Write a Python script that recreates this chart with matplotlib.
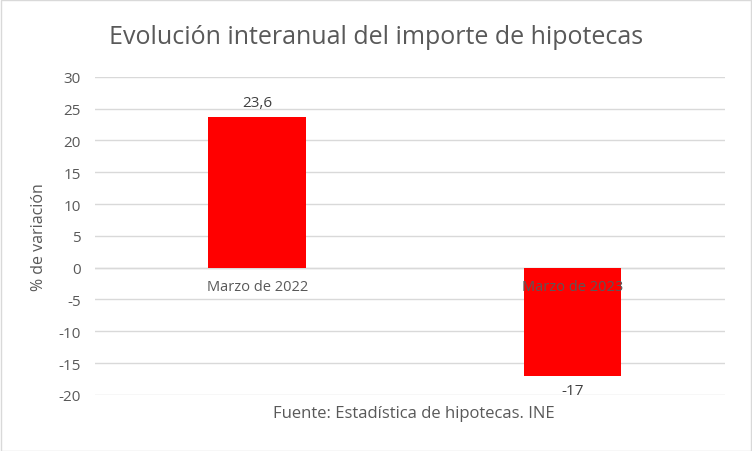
import matplotlib
matplotlib.use("Agg")
import matplotlib.pyplot as plt
from matplotlib.patches import Rectangle
from matplotlib.ticker import FuncFormatter

categories = ["Marzo de 2022", "Marzo de 2023"]
values = [23.6, -17]
labels = ["23,6", "-17"]
yticks = [30, 25, 20, 15, 10, 5, 0, -5, -10, -15, -20]

plt.rcParams['font.family'] = ['Open Sans', 'DejaVu Sans']
fig = plt.figure(figsize=(7.52, 4.52), dpi=100)
fig.patches.append(Rectangle((0.001, 0.001), 0.998, 0.997, transform=fig.transFigure,
                             fill=False, edgecolor="#d9d9d9", lw=1))
ax = fig.add_axes([0.126, 0.124, 0.838, 0.704])
x = list(range(len(categories)))
ax.bar(x, values, width=0.31, color="#ff0000", zorder=3)
ax.set_xlim(-0.516, 1.484)
ax.set_ylim(-20, 30)
ax.set_yticks(yticks)
ax.yaxis.set_major_formatter(FuncFormatter(lambda v, p: f"{int(v)}"))
ax.tick_params(axis='y', length=0, labelsize=11, labelcolor="#595959", pad=10)
ax.set_xticks([])
ax.grid(axis='y', color="#d9d9d9", lw=1, zorder=0)
for s in ax.spines.values():
    s.set_visible(False)
ax.axhline(0, color="#d9d9d9", lw=1, zorder=1)
for xi, c in zip(x, categories):
    ax.text(xi, -1.8, c, ha='center', va='top', fontsize=10.5, color="#595959", zorder=4)
for xi, v, l in zip(x, values, labels):
    if v >= 0:
        ax.text(xi, v + 1.2, l, ha='center', va='bottom', fontsize=11, color="#404040")
    else:
        ax.text(xi, v - 1.2, l, ha='center', va='top', fontsize=11, color="#404040")
ax.set_ylabel("% de variación", fontsize=11.5, color="#595959", labelpad=8)
fig.text(0.5, 0.916, "Evolución interanual del importe de hipotecas", ha='center', va='center',
         fontsize=18, color="#595959")
fig.text(0.55, 0.085, "Fuente: Estadística de hipotecas. INE", ha='center', va='center',
         fontsize=12, color="#595959")
fig.savefig("out.png", dpi=100)
